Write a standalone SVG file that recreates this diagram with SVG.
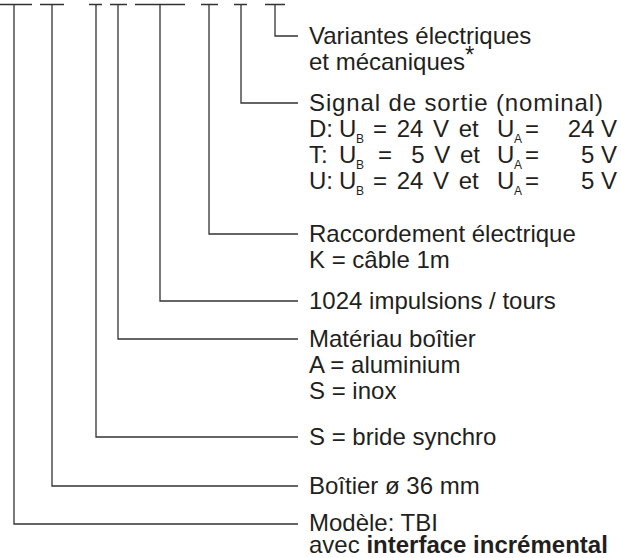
<svg xmlns="http://www.w3.org/2000/svg" width="621" height="558" viewBox="0 0 621 558">
<style>
.c{fill:none;stroke:#333;stroke-width:1.3}
text{font-family:"Liberation Sans",Arial,sans-serif;font-size:24px;fill:#231f20}
.s{font-size:12px}
.e{text-anchor:end}
.w{word-spacing:3px}
.b{font-weight:bold}
</style>
<rect width="621" height="558" fill="#fff"/>
<g id="connectors">
<path class="c" d="M0 4.5H32M14 4.5V524H298"/>
<path class="c" d="M40 4.5H64M52 4.5V486H298"/>
<path class="c" d="M89 4.5H102M96 4.5V437H298"/>
<path class="c" d="M110 4.5H127M118 4.5V339H298"/>
<path class="c" d="M135 4.5H185M160 4.5V301H298"/>
<path class="c" d="M201 4.5H218M209 4.5V234H298"/>
<path class="c" d="M234 4.5H247M241 4.5V103H298"/>
<path class="c" d="M265 4.5H285M275 4.5V36H298"/>
</g>
<g id="n-variantes"><text x="309" y="44">Variantes électriques</text><text x="309" y="70">et mécaniques<tspan dy="-7">*</tspan></text></g>
<g id="n-signal">
<text x="309" y="111" textLength="294" lengthAdjust="spacing">Signal de sortie (nominal)</text>
<text x="309" y="137">D:</text><text x="339" y="137">U</text><text class="s" x="356" y="143">B</text><text class="w" x="373" y="137">= 24 V et</text><text x="497" y="137">U</text><text class="s" x="514" y="143">A</text><text x="525" y="137">=</text><text class="e" x="617" y="137">24 V</text>
<text x="309" y="163">T:</text><text x="339" y="163">U</text><text class="s" x="356" y="169">B</text><text x="378" y="163">=</text><text class="e w" x="480" y="163">5 V et</text><text x="497" y="163">U</text><text class="s" x="514" y="169">A</text><text x="525" y="163">=</text><text class="e" x="617" y="163">5 V</text>
<text x="309" y="189">U:</text><text x="339" y="189">U</text><text class="s" x="356" y="195">B</text><text class="w" x="373" y="189">= 24 V et</text><text x="497" y="189">U</text><text class="s" x="514" y="195">A</text><text x="525" y="189">=</text><text class="e" x="617" y="189">5 V</text>
</g>
<g id="n-raccordement"><text x="309" y="242">Raccordement électrique</text><text x="309" y="268">K = câble 1m</text></g>
<g id="n-impulsions"><text x="309" y="309">1024 impulsions / tours</text></g>
<g id="n-materiau"><text x="309" y="347">Matériau boîtier</text><text x="309" y="373">A = aluminium</text><text x="309" y="399">S = inox</text></g>
<g id="n-bride"><text x="309" y="445">S = bride synchro</text></g>
<g id="n-boitier"><text x="309" y="494">Boîtier ø 36 mm</text></g>
<g id="n-modele"><text x="309" y="531">Modèle: TBI</text><text x="309" y="553">avec  <tspan class="b">interface incrémental</tspan></text></g>
</svg>
